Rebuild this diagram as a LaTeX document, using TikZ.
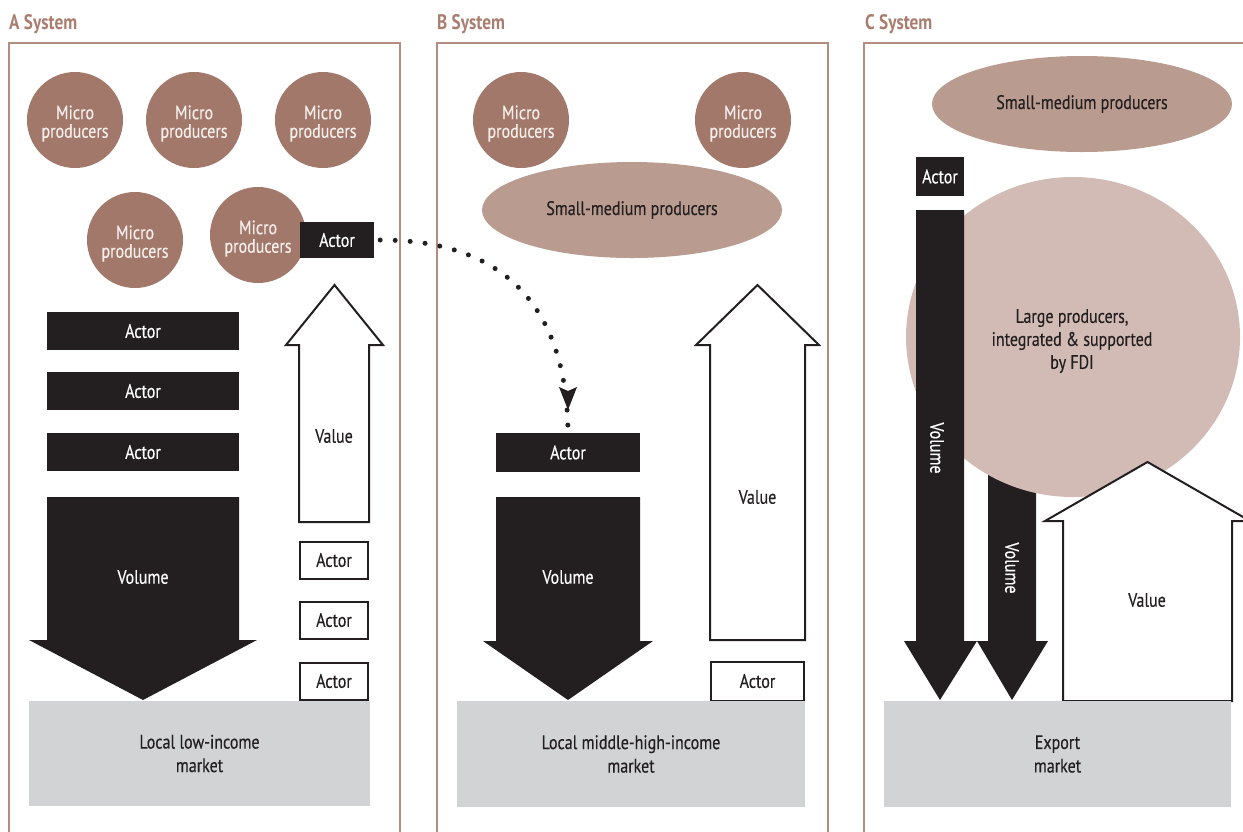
\documentclass[tikz,border=0pt]{standalone}
\usepackage{fontspec}
\setmainfont{PT Sans}[FakeStretch=0.82, UprightFeatures={FakeBold=0.3}]
\usetikzlibrary{arrows.meta,shapes.geometric}
\definecolor{frameC}{HTML}{B38D7F}
\definecolor{titleC}{HTML}{A97E6F}
\definecolor{microC}{HTML}{A2786A}
\definecolor{smallC}{HTML}{B99B90}
\definecolor{largeC}{HTML}{D1BBB4}
\definecolor{mktC}{HTML}{D1D3D4}
\definecolor{blk}{HTML}{231F20}
\definecolor{lighttxt}{HTML}{F5EEEB}
\begin{document}
\begin{tikzpicture}[x=1pt,y=-1pt,
  txt/.style={font=\fontsize{19.5}{18.5}\selectfont, align=center, inner sep=0pt},
  widetxt/.style={font=\fontsize{19.5}{23.5}\selectfont, align=center, inner sep=0pt},
  panel/.style={draw=frameC, line width=2pt},
  title/.style={font=\bfseries\fontsize{21}{22}\selectfont, text=titleC, anchor=base west, inner sep=0pt},
  micro/.style={circle, fill=microC, minimum size=96pt, inner sep=0pt,
    label={[txt, text=lighttxt, yshift=-3.5pt]center:Micro\\producers}},
  smallmed/.style={ellipse, fill=smallC, minimum width=300pt, minimum height=96pt, txt, text=blk},
  blackbox/.style={rectangle, fill=blk, txt, text=white},
  whitebox/.style={rectangle, draw=blk, line width=2pt, fill=white, txt, text=blk},
  market/.style={rectangle, fill=mktC, widetxt, text=blk},
  blackarrow/.style={fill=blk},
  whitearrow/.style={draw=blk, line width=2pt, fill=white, miter limit=20},
  lbl/.style={txt},
  dotline/.style={line width=5pt, line cap=round, dash pattern=on 0pt off 15pt, draw=blk},
]
\useasboundingbox (0,0) rectangle (1243,831);
\clip (0,0) rectangle (1243,831);

% frames and titles
\draw[panel] (9,43) rectangle (400,860);
\draw[panel] (437,43) rectangle (828,860);
\draw[panel] (864,43) rectangle (1270,860);
\node[title] (tA) at (9,29.5) {A System};
\node[title] (tB) at (437,29.5) {B System};
\node[title] (tC) at (865,29.5) {C System};

% ---------- A system ----------
\node[micro] (mA1) at (75,120) {};
\node[micro] (mA2) at (194,120) {};
\node[micro] (mA3) at (323,120) {};
\node[micro] (mA4) at (135,240) {};
\node[micro] (mA5) at (258,235) {};
\node[blackbox, minimum width=74pt, minimum height=36pt] (actA) at (337,240) {Actor};

\node[blackbox, minimum width=192pt, minimum height=38pt] (aA1) at (143,331) {Actor};
\node[blackbox, minimum width=192pt, minimum height=38pt] (aA2) at (143,391) {Actor};
\node[blackbox, minimum width=192pt, minimum height=38pt] (aA3) at (143,452) {Actor};

\fill[blackarrow] (47,497) -- (239,497) -- (239,640) -- (257,640) -- (143,700) -- (29,640) -- (47,640) -- cycle;
\node[lbl, text=white] (volA) at (143,577) {Volume};

\draw[whitearrow] (299,522) -- (299,345) -- (286,345) -- (334.5,285) -- (383,345) -- (369,345) -- (369,522) -- cycle;
\node[lbl, text=blk] (valA) at (334,436) {Value};

\node[whitebox, minimum width=68pt, minimum height=37pt] (wA1) at (334,560) {Actor};
\node[whitebox, minimum width=68pt, minimum height=37pt] (wA2) at (334,620) {Actor};
\node[whitebox, minimum width=68pt, minimum height=37pt] (wA3) at (334,681) {Actor};

\node[market, minimum width=341pt, minimum height=105pt] (mkA) at (199.5,753.5) {Local low-income\\market};

% ---------- B system ----------
\node[micro] (mB1) at (521,120) {};
\node[micro] (mB2) at (743,120) {};
\node[smallmed] (smB) at (632,210) {Small-medium producers};

\draw[whitearrow] (710,640) -- (710,345) -- (696,345) -- (757.5,285) -- (819,345) -- (805,345) -- (805,640) -- cycle;
\node[lbl, text=blk] (valB) at (757.5,497) {Value};
\node[whitebox, minimum width=93pt, minimum height=39pt] (wB1) at (757.5,681) {Actor};

\node[blackbox, minimum width=144pt, minimum height=39pt] (actB) at (568,452.5) {Actor};
\fill[blackarrow] (496,497) -- (640,497) -- (640,641) -- (653,641) -- (568,700) -- (483,641) -- (496,641) -- cycle;
\node[lbl, text=white] (volB) at (568,577) {Volume};

\node[market, minimum width=348pt, minimum height=106pt] (mkB) at (631,754) {Local middle-high-income\\market};

% ---------- C system ----------
\node[smallmed] (smC) at (1082,104) {Small-medium producers};
\node[blackbox, minimum width=48pt, minimum height=39pt] (actC) at (940,176.5) {Actor};

\fill[blackarrow] (988,300) -- (1036,300) -- (1036,641) -- (1048,641) -- (1012,700) -- (977,641) -- (988,641) -- cycle;
\node[lbl, text=white, rotate=-90] (volC2) at (1012,568) {Volume};

\fill[largeC] (1073,337) ellipse [x radius=167, y radius=160];
\node[widetxt, font=\fontsize{19.5}{23}\selectfont, text=blk] (large) at (1072,341) {Large producers,\\integrated \& supported\\by FDI};

\fill[blackarrow] (916,210) -- (964,210) -- (964,641) -- (977,641) -- (940,700) -- (904,641) -- (916,641) -- cycle;
\node[lbl, text=white, rotate=-90] (volC1) at (937,448) {Volume};

\draw[whitearrow] (1063,701) -- (1063,521) -- (1045,521) -- (1147.5,462) -- (1250,521) -- (1232,521) -- (1232,701) -- cycle;
\node[lbl, text=blk] (valC) at (1147,600) {Value};

\node[market, minimum width=347pt, minimum height=106pt] (mkC) at (1057.5,754) {Export\\market};

% ---------- dotted connector ----------
\coordinate (dotend) at (568,410);
\draw[dotline] ([xshift=6pt]actA.east) .. controls (450,240) and (568,260) .. ([yshift=-26pt]dotend);
\fill[blk] (dotend) -- (559,387) -- (568,391) -- (577,387) -- cycle;
\end{tikzpicture}
\end{document}
